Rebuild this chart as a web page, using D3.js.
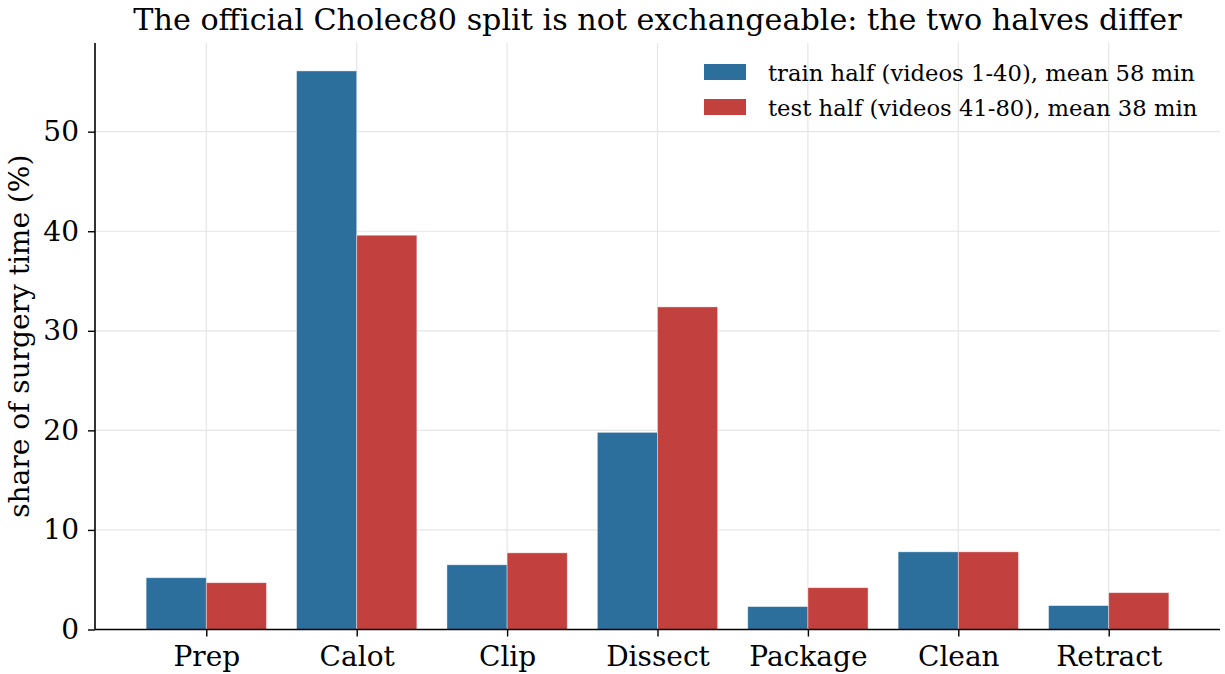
<!DOCTYPE html>
<html>
<head>
<meta charset="utf-8">
<script src="https://cdn.jsdelivr.net/npm/d3@7"></script>
<style>
  body { margin: 0; background: #fff; }
  svg text { font-family: "DejaVu Serif", serif; fill: #000; }
</style>
</head>
<body>
<div id="chart"></div>
<script>
// phases and their share of surgery time (%)
const phases = ["Prep", "Calot", "Clip", "Dissect", "Package", "Clean", "Retract"];
const trainShare = [5.2, 56.1, 6.5, 19.8, 2.3, 7.8, 2.4];
const testShare = [4.7, 39.6, 7.7, 32.4, 4.2, 7.8, 3.7];
const seriesNames = ["train half (videos 1-40), mean 58 min", "test half (videos 41-80), mean 38 min"];
const yTicks = [0, 10, 20, 30, 40, 50];

const W = 1225, H = 674;
const margin = { top: 43, right: 5, bottom: 44.5, left: 95 };
const width = W - margin.left - margin.right,
      height = H - margin.top - margin.bottom;

const colors = ["#2c6f9c", "#c2413f"];

const svg = d3.select("#chart")
  .append("svg")
    .attr("width", W)
    .attr("height", H);

const g = svg.append("g")
  .attr("transform", `translate(${margin.left},${margin.top})`);

// numeric x like matplotlib: categories at 0..6, bars of 0.4 each side
const n = phases.length;
const pad = 0.05 * (n - 1 + 0.8);
const x = d3.scaleLinear().domain([-0.4 - pad, n - 1 + 0.4 + pad]).range([0, width]);
const yMax = d3.max(trainShare.concat(testShare)) * 1.05;
const y = d3.scaleLinear().domain([0, yMax]).range([height, 0]);

// grid
g.append("g").selectAll("line.gy").data(yTicks).enter().append("line")
  .attr("x1", 0).attr("x2", width)
  .attr("y1", d => y(d)).attr("y2", d => y(d))
  .attr("stroke", "#e6e6e6").attr("stroke-width", 1.2);
g.append("g").selectAll("line.gx").data(phases).enter().append("line")
  .attr("x1", (d, i) => x(i)).attr("x2", (d, i) => x(i))
  .attr("y1", 0).attr("y2", height)
  .attr("stroke", "#e6e6e6").attr("stroke-width", 1.2);

// bars
const bw = x(0.4) - x(0);
[trainShare, testShare].forEach((vals, s) => {
  g.append("g").selectAll("rect").data(vals).enter().append("rect")
    .attr("x", (d, i) => s === 0 ? x(i - 0.4) : x(i))
    .attr("y", d => y(d))
    .attr("width", bw)
    .attr("height", d => height - y(d))
    .attr("fill", colors[s])
    .attr("stroke", "#ffffff")
    .attr("stroke-opacity", 0.5)
    .attr("stroke-width", 0.8);
});

// axes
const yAxis = g.append("g")
  .call(d3.axisLeft(y).tickValues(yTicks).tickSize(7).tickPadding(9).tickSizeOuter(0));
const xAxis = g.append("g")
  .attr("transform", `translate(0,${height})`)
  .call(d3.axisBottom(x).tickValues(d3.range(n)).tickFormat(i => phases[i]).tickSize(7).tickPadding(10).tickSizeOuter(0));

[xAxis, yAxis].forEach(a => {
  a.select(".domain").attr("stroke", "#000").attr("stroke-width", 1.6);
  a.selectAll(".tick line").attr("stroke", "#000").attr("stroke-width", 1.4);
  a.selectAll("text").style("font-family", "DejaVu Serif").style("font-size", "28px").attr("fill", "#000");
});
xAxis.select(".domain").attr("d", `M0,0H${width}`);
yAxis.select(".domain").attr("d", `M0,${height}V0`);

// labels
svg.append("text")
  .attr("transform", `translate(29,${margin.top + height / 2}) rotate(-90)`)
  .attr("text-anchor", "middle")
  .style("font-size", "28px")
  .text("share of surgery time (%)");

svg.append("text")
  .attr("x", margin.left + width / 2)
  .attr("y", 30)
  .attr("text-anchor", "middle")
  .style("font-size", "30.2px")
  .text("The official Cholec80 split is not exchangeable: the two halves differ");

// legend
const legend = svg.append("g").attr("transform", "translate(704,64)");
seriesNames.forEach((name, i) => {
  const row = legend.append("g").attr("transform", `translate(0,${i * 35})`);
  row.append("rect").attr("width", 42).attr("height", 16).attr("fill", colors[i]);
  row.append("text").attr("x", 64).attr("y", 17).style("font-size", "22.7px").text(name);
});
</script>
</body>
</html>
